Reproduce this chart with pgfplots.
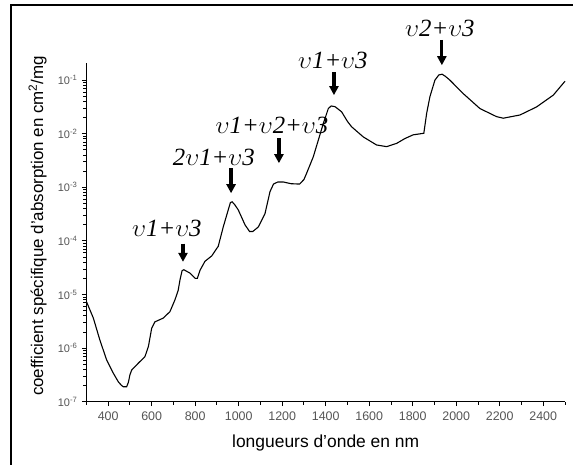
\documentclass[border=0pt]{standalone}
\usepackage{pgfplots}
\pgfplotsset{compat=1.18}
\usetikzlibrary{arrows.meta}
\usepackage{fontspec}
\setmainfont{Liberation Sans}
\newfontfamily\serif{Liberation Serif}
\definecolor{tickgray}{HTML}{555555}
\newcommand{\n}{$\upsilon$}
\newcommand{\lbl}[1]{{\Huge\serif\itshape #1}}
\begin{document}
\begin{tikzpicture}
\useasboundingbox (-86.4bp,-63.3bp) rectangle (486.6bp,401.7bp);
\draw[line width=2bp] (-75.4bp,-63.3bp) -- (-75.4bp,396.2bp) -- (486.6bp,396.2bp);
\begin{axis}[
  at={(0,0)}, anchor=south west,
  scale only axis, width=478.6bp, height=338.7bp,
  xmin=300, xmax=2500, ymode=log, ymin=1e-7, ymax=0.209,
  axis lines=left, axis line style={-, line width=1.3bp},
  clip=false,
  xtick={400,600,800,1000,1200,1400,1600,1800,2000,2200,2400},
  xticklabels={400,600,800,1000,1200,1400,1600,1800,2000,2200,2400},
  minor xtick={300,500,700,900,1100,1300,1500,1700,1900,2100,2300,2500},
  ytick={1e-7,1e-6,1e-5,1e-4,1e-3,1e-2,1e-1},
  yticklabels={10\textsuperscript{-7},10\textsuperscript{-6},10\textsuperscript{-5},10\textsuperscript{-4},10\textsuperscript{-3},10\textsuperscript{-2},10\textsuperscript{-1}},
  tick align=outside,
  major tick length=4.5bp, minor tick length=3bp,
  every tick/.style={black, line width=0.9bp},
  x tick label style={font=\fontsize{12.5}{14}\selectfont, text=tickgray, yshift=-2bp},
  y tick label style={font=\fontsize{11}{13}\selectfont, text=tickgray, xshift=-1bp},
  xlabel={longueurs d'onde en nm},
  ylabel={coefficient spécifique d'absorption en cm\textsuperscript{2}/mg},
  xlabel style={font=\fontsize{17.5}{20}\selectfont, at={(axis description cs:0.5,-0.121)}, anchor=center},
  ylabel style={font=\fontsize{17}{20}\selectfont, at={(axis description cs:-0.102,0.519)}, anchor=center},
]
\addplot[black, line width=1.1bp] coordinates {
(300,7.41e-6) (332,3.63e-6) (362,1.41e-6) (393,6.03e-7) (424,3.39e-7) (447,2.34e-7)
(462,2.0e-7) (470,1.90e-7) (485,1.90e-7) (493,2.3e-7) (500,3.16e-7) (508,3.89e-7) (539,5.25e-7) (569,6.92e-7)
(585,1.07e-6) (600,2.34e-6) (615,3.09e-6) (653,3.63e-6) (684,4.79e-6) (707,7.94e-6)
(722,1.20e-5) (730,1.86e-5) (740,2.8e-5) (748,2.9e-5) (776,2.51e-5) (800,2.0e-5) (810,2.0e-5) (822,2.82e-5)
(845,4.17e-5) (876,5.25e-5) (906,7.94e-5) (929,1.82e-4) (952,3.80e-4) (962,5.2e-4) (970,5.37e-4)
(983,4.68e-4) (998,3.80e-4) (1029,2.00e-4) (1050,1.5e-4) (1065,1.5e-4) (1090,1.82e-4) (1121,3.24e-4)
(1144,8.32e-4) (1160,1.15e-3) (1180,1.26e-3) (1205,1.26e-3) (1240,1.17e-3) (1280,1.15e-3) (1300,1.4e-3) (1312,1.82e-3)
(1343,3.72e-3) (1366,7.59e-3) (1389,1.55e-2) (1412,2.95e-2) (1425,3.3e-2) (1443,3.2e-2) (1473,2.57e-2)
(1500,1.7e-2) (1519,1.35e-2) (1573,8.71e-3) (1634,6.17e-3) (1680,5.75e-3) (1726,6.61e-3) (1764,8.13e-3)
(1802,9.55e-3) (1851,1.02e-2) (1864,2.40e-2) (1879,4.90e-2) (1902,1.00e-1) (1920,1.25e-1) (1935,1.29e-1)
(1950,1.18e-1) (1971,1.00e-1) (2032,5.62e-2) (2109,2.95e-2) (2185,2.09e-2) (2216,1.95e-2) (2293,2.24e-2)
(2369,3.16e-2) (2446,5.25e-2) (2500,9.55e-2)
};
\tikzset{ann/.style={-{Triangle[width=9bp,length=9bp]}, line width=3.2bp}}
\draw[ann] (axis cs:744,8.9e-5) -- (axis cs:744,4.07e-5);
\draw[ann] (axis cs:965,2.29e-3) -- (axis cs:965,7.76e-4);
\draw[ann] (axis cs:1185,8.3e-3) -- (axis cs:1185,2.82e-3);
\draw[ann] (axis cs:1438,0.141) -- (axis cs:1438,5.25e-2);
\draw[ann] (axis cs:1934,0.562) -- (axis cs:1934,0.19);
\node at (axis cs:670,1.74e-4) {\lbl{\n1+\n3}};
\node at (axis cs:886,3.55e-3) {\lbl{2\n1+\n3}};
\node at (axis cs:1153,1.45e-2) {\lbl{\n1+\n2+\n3}};
\node at (axis cs:1433,0.234) {\lbl{\n1+\n3}};
\node at (axis cs:1925,0.933) {\lbl{\n2+\n3}};
\end{axis}
\end{tikzpicture}
\end{document}
